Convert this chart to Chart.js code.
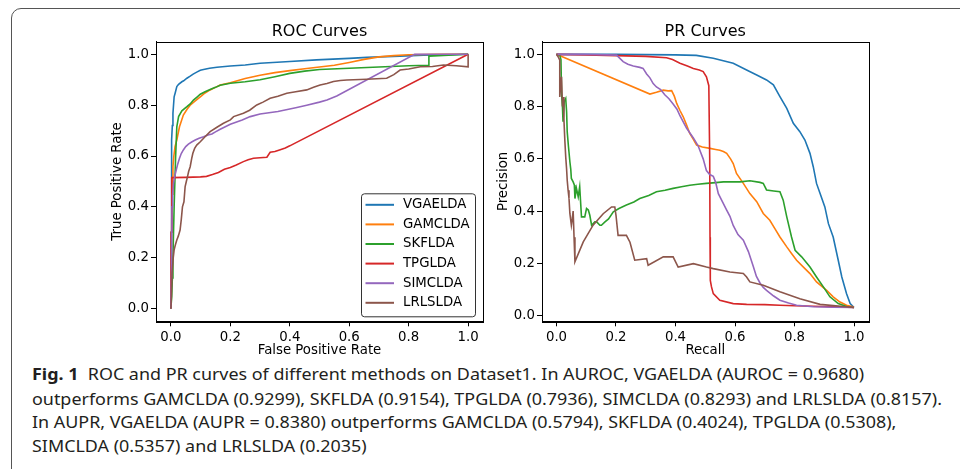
<!DOCTYPE html>
<html>
<head>
<meta charset="utf-8">
<script src="https://cdn.jsdelivr.net/npm/chart.js@4.4.0/dist/chart.umd.min.js"></script>
<style>
  html, body { margin: 0; padding: 0; background: #fff; }
  body { width: 960px; height: 469px; position: relative; overflow: hidden; }
  #frame { position: absolute; left: 11px; top: 8px; width: 1000px; height: 600px; border: 1.5px solid #555; border-radius: 10px; box-sizing: border-box; }
  canvas { position: absolute; top: 0; }
  #roc { left: 0; }
  #pr { left: 480px; }
  .cap { position: absolute; left: 32px; font-family: "Noto Sans", sans-serif; font-size: 15.5px; line-height: 20px; color: #231f20; white-space: nowrap; transform-origin: 0 50%; }
  .cap b { font-weight: 700; }
</style>
</head>
<body>
<div id="frame"></div>
<canvas id="roc" width="500" height="362"></canvas>
<canvas id="pr" width="480" height="362"></canvas>
<div class="cap" style="top:364px"><b>Fig. 1</b>&nbsp; ROC and PR curves of different methods on Dataset1. In AUROC, VGAELDA (AUROC = 0.9680)</div>
<div class="cap" style="top:388.5px">outperforms GAMCLDA (0.9299), SKFLDA (0.9154), TPGLDA (0.7936), SIMCLDA (0.8293) and LRLSLDA (0.8157).</div>
<div class="cap" style="top:412px">In AUPR, VGAELDA (AUPR = 0.8380) outperforms GAMCLDA (0.5794), SKFLDA (0.4024), TPGLDA (0.5308),</div>
<div class="cap" style="top:435.5px">SIMCLDA (0.5357) and LRLSLDA (0.2035)</div>
<script>
// Métodos y colores (tab10 de matplotlib)
const methods = ['VGAELDA', 'GAMCLDA', 'SKFLDA', 'TPGLDA', 'SIMCLDA', 'LRLSLDA'];
const colors = ['#1f77b4', '#ff7f0e', '#2ca02c', '#d62728', '#9467bd', '#8c564b'];
const tickValues = [0, 0.2, 0.4, 0.6, 0.8, 1.0];

// ---- Curvas ROC (FPR / TPR) ----
const rocVgaeFpr = [0, 0.001, 0.002, 0.003, 0.005, 0.007, 0.011, 0.015, 0.02, 0.026, 0.037, 0.043, 0.054, 0.065, 0.075, 0.087, 0.099, 0.11, 0.13, 0.155, 0.2, 0.25, 0.3, 0.4, 0.49, 0.6, 0.66, 0.77, 0.85, 1.0];
const rocVgaeTpr = [0, 0.3, 0.532, 0.663, 0.72, 0.768, 0.833, 0.85, 0.873, 0.882, 0.892, 0.896, 0.906, 0.914, 0.922, 0.93, 0.937, 0.94, 0.945, 0.949, 0.954, 0.958, 0.965, 0.972, 0.978, 0.984, 0.988, 0.993, 0.997, 1.0];

const rocGamcFpr = [0, 0.002, 0.004, 0.007, 0.01, 0.014, 0.02, 0.029, 0.042, 0.055, 0.065, 0.08, 0.099, 0.115, 0.132, 0.15, 0.166, 0.2, 0.25, 0.3, 0.35, 0.4, 0.45, 0.5, 0.55, 0.6, 0.65, 0.7, 0.75, 0.8, 0.9, 1.0];
const rocGamcTpr = [0, 0.25, 0.45, 0.558, 0.6, 0.637, 0.663, 0.715, 0.761, 0.785, 0.8, 0.815, 0.833, 0.848, 0.86, 0.87, 0.879, 0.888, 0.905, 0.918, 0.928, 0.936, 0.943, 0.95, 0.957, 0.968, 0.98, 0.99, 0.995, 0.998, 1.0, 1.0];

const rocSkfFpr = [0, 0.003, 0.005, 0.007, 0.011, 0.016, 0.02, 0.026, 0.037, 0.054, 0.065, 0.076, 0.088, 0.099, 0.115, 0.132, 0.15, 0.166, 0.2, 0.25, 0.3, 0.35, 0.4, 0.45, 0.5, 0.6, 0.7, 0.8, 0.866, 0.868, 1.0];
const rocSkfTpr = [0, 0.05, 0.12, 0.204, 0.4, 0.597, 0.715, 0.755, 0.778, 0.794, 0.805, 0.82, 0.832, 0.843, 0.853, 0.862, 0.87, 0.878, 0.886, 0.892, 0.9, 0.912, 0.925, 0.934, 0.94, 0.945, 0.95, 0.955, 0.957, 0.993, 1.0];

const rocTpgFpr = [0, 0.001, 0.003, 0.05, 0.1, 0.12, 0.14, 0.16, 0.18, 0.2, 0.22, 0.244, 0.26, 0.278, 0.3, 0.323, 0.334, 0.35, 0.368, 0.385, 0.4, 1.0];
const rocTpgTpr = [0, 0.3, 0.515, 0.516, 0.518, 0.52, 0.527, 0.535, 0.548, 0.555, 0.565, 0.578, 0.585, 0.591, 0.593, 0.595, 0.615, 0.618, 0.625, 0.632, 0.64, 1.0];

const rocSimcFpr = [0, 0.002, 0.004, 0.006, 0.009, 0.013, 0.018, 0.023, 0.029, 0.035, 0.042, 0.05, 0.059, 0.07, 0.082, 0.095, 0.11, 0.125, 0.138, 0.15, 0.166, 0.2, 0.24, 0.267, 0.3, 0.36, 0.42, 0.457, 0.5, 0.525, 0.558, 0.82, 1.0];
const rocSimcTpr = [0, 0.139, 0.4, 0.45, 0.493, 0.52, 0.545, 0.568, 0.591, 0.61, 0.624, 0.637, 0.647, 0.655, 0.663, 0.67, 0.676, 0.683, 0.687, 0.695, 0.705, 0.725, 0.742, 0.755, 0.765, 0.775, 0.79, 0.8, 0.812, 0.82, 0.836, 1.0, 1.0];

const rocLrlsFpr = [0, 0.002, 0.004, 0.008, 0.011, 0.015, 0.02, 0.025, 0.031, 0.035, 0.039, 0.044, 0.048, 0.052, 0.056, 0.06, 0.065, 0.07, 0.074, 0.08, 0.087, 0.099, 0.115, 0.132, 0.155, 0.177, 0.2, 0.211, 0.244, 0.265, 0.289, 0.31, 0.334, 0.36, 0.39, 0.42, 0.457, 0.48, 0.502, 0.525, 0.547, 0.57, 0.592, 0.659, 0.726, 0.75, 0.771, 0.8, 0.839, 0.88, 0.917, 0.96, 1.0, 1.0];
const rocLrlsTpr = [0, 0.05, 0.139, 0.2, 0.231, 0.25, 0.27, 0.285, 0.309, 0.35, 0.4, 0.42, 0.48, 0.5, 0.519, 0.54, 0.558, 0.59, 0.611, 0.63, 0.643, 0.656, 0.676, 0.696, 0.713, 0.729, 0.742, 0.755, 0.768, 0.78, 0.801, 0.812, 0.827, 0.835, 0.847, 0.853, 0.86, 0.87, 0.879, 0.885, 0.893, 0.897, 0.899, 0.902, 0.906, 0.92, 0.938, 0.942, 0.951, 0.952, 0.958, 0.955, 0.951, 1.0];

// ---- Curvas PR (Recall / Precision) ----
const prVgaeRec = [0, 0.1, 0.2, 0.3, 0.4, 0.47, 0.527, 0.594, 0.639, 0.673, 0.706, 0.729, 0.751, 0.774, 0.796, 0.818, 0.835, 0.852, 0.863, 0.874, 0.886, 0.902, 0.914, 0.93, 0.947, 0.959, 0.975, 0.987, 1.0];
const prVgaePre = [1.0, 1.0, 1.0, 0.999, 0.998, 0.996, 0.985, 0.966, 0.94, 0.921, 0.902, 0.883, 0.838, 0.793, 0.736, 0.704, 0.672, 0.621, 0.57, 0.506, 0.467, 0.416, 0.352, 0.301, 0.212, 0.148, 0.084, 0.046, 0.031];

const prGamcRec = [0, 0.314, 0.336, 0.359, 0.375, 0.387, 0.396, 0.404, 0.415, 0.426, 0.437, 0.448, 0.46, 0.471, 0.49, 0.516, 0.535, 0.549, 0.561, 0.572, 0.585, 0.594, 0.605, 0.628, 0.65, 0.673, 0.695, 0.717, 0.734, 0.751, 0.774, 0.79, 0.807, 0.835, 0.852, 0.874, 0.908, 0.93, 0.953, 0.975, 1.0];
const prGamcPre = [1.0, 0.848, 0.855, 0.863, 0.86, 0.861, 0.84, 0.812, 0.785, 0.761, 0.73, 0.697, 0.675, 0.653, 0.645, 0.64, 0.636, 0.633, 0.628, 0.621, 0.6, 0.582, 0.544, 0.506, 0.467, 0.436, 0.391, 0.365, 0.333, 0.301, 0.263, 0.238, 0.212, 0.18, 0.161, 0.129, 0.097, 0.072, 0.052, 0.04, 0.033];

const prSkfRec = [0, 0.011, 0.015, 0.017, 0.02, 0.022, 0.026, 0.031, 0.034, 0.036, 0.04, 0.045, 0.048, 0.05, 0.056, 0.06, 0.062, 0.067, 0.073, 0.078, 0.084, 0.095, 0.101, 0.107, 0.112, 0.118, 0.129, 0.135, 0.146, 0.151, 0.163, 0.175, 0.191, 0.21, 0.235, 0.26, 0.28, 0.31, 0.336, 0.365, 0.392, 0.42, 0.448, 0.475, 0.504, 0.535, 0.561, 0.59, 0.617, 0.65, 0.684, 0.695, 0.706, 0.73, 0.751, 0.762, 0.774, 0.79, 0.802, 0.824, 0.852, 0.874, 0.897, 0.919, 0.947, 0.975, 1.0];
const prSkfPre = [1.0, 0.997, 0.98, 0.85, 0.8, 0.742, 0.82, 0.831, 0.78, 0.704, 0.65, 0.589, 0.56, 0.525, 0.512, 0.5, 0.448, 0.487, 0.455, 0.493, 0.378, 0.378, 0.41, 0.404, 0.384, 0.346, 0.359, 0.359, 0.346, 0.346, 0.359, 0.37, 0.397, 0.41, 0.423, 0.435, 0.448, 0.46, 0.474, 0.48, 0.487, 0.493, 0.499, 0.503, 0.506, 0.509, 0.512, 0.512, 0.512, 0.516, 0.51, 0.506, 0.481, 0.477, 0.474, 0.442, 0.378, 0.301, 0.25, 0.225, 0.186, 0.148, 0.11, 0.072, 0.046, 0.035, 0.031];

const prTpgRec = [0, 0.1, 0.2, 0.3, 0.37, 0.39, 0.415, 0.44, 0.46, 0.48, 0.493, 0.504, 0.512, 0.515, 0.516, 0.517, 0.521, 0.527, 0.549, 0.594, 0.639, 0.7, 0.75, 0.8, 0.863, 0.93, 1.0];
const prTpgPre = [1.0, 0.998, 0.995, 0.992, 0.987, 0.98, 0.966, 0.955, 0.946, 0.94, 0.934, 0.914, 0.88, 0.6, 0.3, 0.135, 0.11, 0.084, 0.059, 0.046, 0.043, 0.042, 0.04, 0.038, 0.036, 0.034, 0.031];

const prSimcRec = [0, 0.1, 0.202, 0.224, 0.24, 0.258, 0.28, 0.291, 0.303, 0.314, 0.325, 0.336, 0.35, 0.364, 0.378, 0.392, 0.405, 0.415, 0.437, 0.46, 0.476, 0.493, 0.504, 0.515, 0.527, 0.535, 0.544, 0.558, 0.572, 0.583, 0.594, 0.61, 0.628, 0.645, 0.661, 0.672, 0.684, 0.695, 0.706, 0.73, 0.751, 0.78, 0.807, 0.863, 0.93, 1.0];
const prSimcPre = [1.0, 1.0, 0.997, 0.972, 0.962, 0.955, 0.95, 0.946, 0.925, 0.91, 0.888, 0.875, 0.865, 0.845, 0.83, 0.81, 0.79, 0.765, 0.718, 0.68, 0.65, 0.6, 0.555, 0.54, 0.533, 0.51, 0.467, 0.435, 0.404, 0.38, 0.345, 0.31, 0.289, 0.245, 0.19, 0.15, 0.125, 0.108, 0.097, 0.075, 0.059, 0.048, 0.04, 0.034, 0.032, 0.031];

const prLrlsRec = [0, 0.006, 0.011, 0.011, 0.014, 0.017, 0.02, 0.022, 0.025, 0.028, 0.031, 0.034, 0.036, 0.039, 0.042, 0.045, 0.05, 0.053, 0.056, 0.059, 0.062, 0.09, 0.123, 0.157, 0.185, 0.196, 0.2, 0.207, 0.235, 0.247, 0.263, 0.303, 0.308, 0.359, 0.392, 0.409, 0.46, 0.504, 0.527, 0.583, 0.628, 0.639, 0.65, 0.695, 0.751, 0.818, 0.886, 1.0];
const prLrlsPre = [1.0, 0.99, 0.978, 0.837, 0.88, 0.914, 0.8, 0.837, 0.75, 0.672, 0.608, 0.56, 0.519, 0.48, 0.45, 0.391, 0.346, 0.37, 0.4, 0.3, 0.206, 0.282, 0.346, 0.39, 0.416, 0.416, 0.384, 0.307, 0.307, 0.281, 0.212, 0.218, 0.193, 0.225, 0.225, 0.186, 0.199, 0.186, 0.18, 0.167, 0.161, 0.148, 0.129, 0.116, 0.091, 0.065, 0.043, 0.031];

const rocSeries = [[rocVgaeFpr, rocVgaeTpr], [rocGamcFpr, rocGamcTpr], [rocSkfFpr, rocSkfTpr], [rocTpgFpr, rocTpgTpr], [rocSimcFpr, rocSimcTpr], [rocLrlsFpr, rocLrlsTpr]];
const prSeries = [[prVgaeRec, prVgaePre], [prGamcRec, prGamcPre], [prSkfRec, prSkfPre], [prTpgRec, prTpgPre], [prSimcRec, prSimcPre], [prLrlsRec, prLrlsPre]];

const tickFont = { family: 'DejaVu Sans', size: 13.3 };
const labelFont = { family: 'DejaVu Sans', size: 13.3, lineHeight: 1.2 };
const titleFont = { family: 'DejaVu Sans', size: 16, lineHeight: 1.2, weight: 'normal' };

// Construye los datasets a partir de las listas x / y
function buildDatasets(series) {
    return series.map(([xs, ys], i) => ({
        label: methods[i],
        data: xs.map((x, k) => ({ x: x, y: ys[k] })),
        borderColor: colors[i],
        borderWidth: 1.6,
        pointRadius: 0,
        tension: 0,
        fill: false,
        order: series.length - i // la primera serie queda debajo, como en matplotlib
    }));
}

// Eje lineal con marcas hacia fuera, estilo matplotlib
function axis(min, max, label, size, horizontal) {
    return {
        type: 'linear',
        min: min,
        max: max,
        bounds: 'data',
        afterBuildTicks: s => { s.ticks = tickValues.map(v => ({ value: v })); },
        afterFit: s => { if (horizontal) s.height = size; else s.width = size; },
        ticks: { font: tickFont, color: '#000', padding: horizontal ? 3.5 : 2, autoSkip: false, maxRotation: 0, callback: v => v.toFixed(1) },
        grid: { display: true, drawOnChartArea: false, drawTicks: true, tickLength: 5, tickColor: '#000', tickWidth: 1 },
        border: { display: true, color: '#000', width: 1 },
        title: { display: true, text: label, font: labelFont, color: '#000', padding: 0 }
    };
}

// Marco completo alrededor del área del gráfico
const framePlugin = {
    id: 'frame',
    afterDatasetsDraw(chart) {
        const { ctx, chartArea: a } = chart;
        ctx.save();
        ctx.strokeStyle = '#000';
        ctx.lineWidth = 1;
        ctx.strokeRect(Math.round(a.left) + 0.5, Math.round(a.top) + 0.5, Math.round(a.right - a.left), Math.round(a.bottom - a.top));
        ctx.restore();
    }
};

// Leyenda con caja dentro del área (abajo a la derecha)
const legendPlugin = {
    id: 'boxLegend',
    afterDraw(chart) {
        const { ctx, chartArea: a } = chart;
        const w = 114, h = 123;
        const x0 = a.right - 8 - w, y0 = a.bottom - 5 - h;
        ctx.save();
        ctx.beginPath();
        ctx.roundRect(x0 + 0.5, y0 + 0.5, w, h, 3);
        ctx.fillStyle = 'rgba(255,255,255,0.8)';
        ctx.fill();
        ctx.strokeStyle = '#333';
        ctx.lineWidth = 1;
        ctx.stroke();
        ctx.font = '13.3px "DejaVu Sans"';
        ctx.textBaseline = 'middle';
        chart.data.datasets.forEach((ds, i) => {
            const y = y0 + 11.5 + i * 19.6;
            ctx.beginPath();
            ctx.moveTo(x0 + 4.5, y);
            ctx.lineTo(x0 + 33, y);
            ctx.strokeStyle = ds.borderColor;
            ctx.lineWidth = 2;
            ctx.stroke();
            ctx.fillStyle = '#000';
            ctx.fillText(ds.label, x0 + 42, y);
        });
        ctx.restore();
    }
};

function makeChart(id, title, series, xRange, yRange, xLabel, yLabel, pad, yWidth, xHeight, plugins) {
    return new Chart(document.getElementById(id), {
        type: 'line',
        data: { datasets: buildDatasets(series) },
        options: {
            responsive: false,
            animation: false,
            devicePixelRatio: 1,
            events: [],
            layout: { padding: pad },
            plugins: {
                legend: { display: false },
                tooltip: { enabled: false },
                title: { display: true, text: title, font: titleFont, color: '#000', fullSize: false, padding: { top: 22.1, bottom: 0.3 } }
            },
            scales: {
                x: axis(xRange[0], xRange[1], xLabel, xHeight, true),
                y: axis(yRange[0], yRange[1], yLabel, yWidth, false)
            }
        },
        plugins: plugins
    });
}

makeChart('roc', 'ROC Curves', rocSeries, [-0.05, 1.05], [-0.05, 1.05], 'False Positive Rate', 'True Positive Rate',
    { left: 110, right: 17, top: 0, bottom: 3 }, 46, 37.7, [framePlugin, legendPlugin]);

makeChart('pr', 'PR Curves', prSeries, [-0.0487, 1.0487], [-0.0217, 1.0487], 'Recall', 'Precision',
    { left: 16, right: 91.5, top: 0, bottom: 3 }, 46, 37.7, [framePlugin]);

// Ajuste horizontal del pie de figura
const caps = document.querySelectorAll('.cap');
const scale = 910 / caps[1].getBoundingClientRect().width;
caps.forEach(c => { c.style.transform = 'scaleX(' + scale + ')'; });
</script>
</body>
</html>
